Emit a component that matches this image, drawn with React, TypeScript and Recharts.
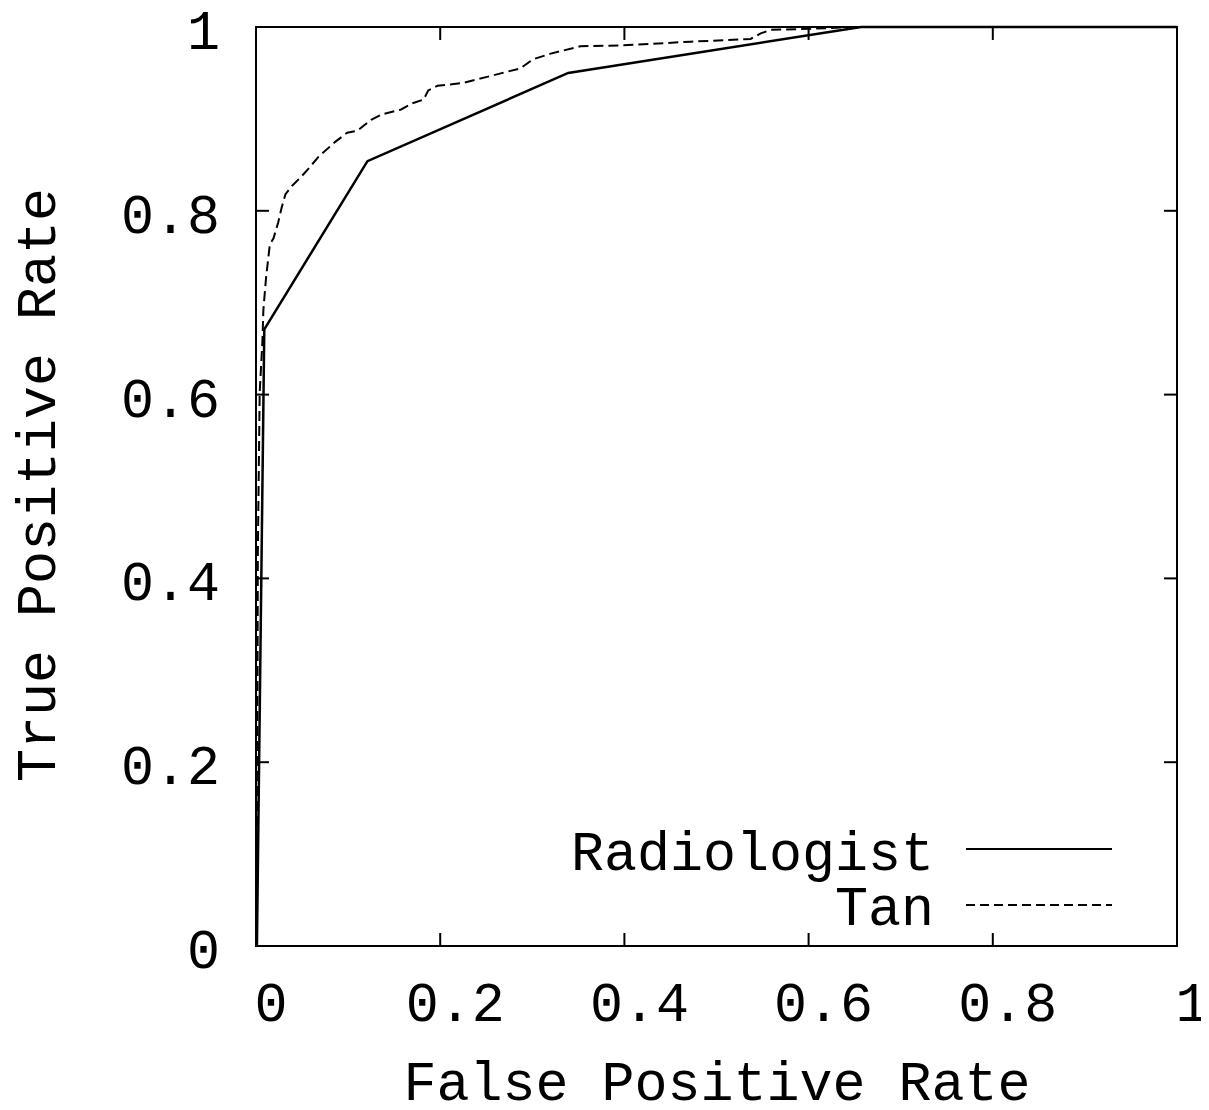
import { Legend, Line, LineChart, ReferenceArea, ReferenceLine, XAxis, YAxis } from "recharts";

const xTicks = [0, 0.2, 0.4, 0.6, 0.8, 1];
const yTicks = [0, 0.2, 0.4, 0.6, 0.8, 1];
const tickLabels = ["0", "0.2", "0.4", "0.6", "0.8", "1"];

const radiologistFpr = [0.001, 0.009, 0.121, 0.339, 0.657, 1];
const radiologistTpr = [0, 0.671, 0.854, 0.95, 1, 1];

const tanFpr = [
  0.001, 0.002, 0.004, 0.007, 0.008, 0.011, 0.015, 0.019, 0.024, 0.028, 0.032,
  0.039, 0.049, 0.058, 0.068, 0.086, 0.099, 0.11, 0.125, 0.137, 0.157, 0.17,
  0.182, 0.187, 0.197, 0.224, 0.252, 0.287, 0.301, 0.32, 0.352, 0.396, 0.472,
  0.537, 0.548, 0.559, 0.602, 0.651, 1,
];
const tanTpr = [
  0, 0.428, 0.602, 0.659, 0.692, 0.728, 0.763, 0.77, 0.787, 0.804, 0.818,
  0.827, 0.837, 0.847, 0.859, 0.875, 0.885, 0.887, 0.899, 0.905, 0.91, 0.917,
  0.921, 0.931, 0.936, 0.939, 0.946, 0.955, 0.965, 0.971, 0.979, 0.98, 0.984,
  0.987, 0.993, 0.997, 0.998, 1, 1,
];

const radiologist = radiologistFpr.map((x, i) => ({ x, y: radiologistTpr[i] }));
const tan = tanFpr.map((x, i) => ({ x, y: tanTpr[i] }));

const W = 1209;
const H = 1110;
const FONT = '"Liberation Mono", "DejaVu Sans Mono", monospace';
const FS = 55;
// inward tick length, in axis units (13px of ~920px)
const TICK = 0.0141;

const label = (v: number) => tickLabels[xTicks.indexOf(v)] ?? String(v);

const XTick = (props: any) => (
  <text x={props.x + 15} y={1021} textAnchor="middle" fontFamily={FONT} fontSize={FS} fill="#000">
    {label(props.payload.value)}
  </text>
);

const YTick = (props: any) => (
  <text x={220} y={props.y + 22} textAnchor="end" fontFamily={FONT} fontSize={FS} fill="#000">
    {label(props.payload.value)}
  </text>
);

const LegendBox = () => (
  <svg width={W} height={H} style={{ position: "absolute", left: 0, top: 0, pointerEvents: "none" }}>
    <text x={934} y={870} textAnchor="end" fontFamily={FONT} fontSize={FS} fill="#000">
      Radiologist
    </text>
    <line x1={966} x2={1112} y1={849} y2={849} stroke="#000" strokeWidth={2} />
    <text x={934} y={925} textAnchor="end" fontFamily={FONT} fontSize={FS} fill="#000">
      Tan
    </text>
    <line x1={966} x2={1112} y1={905} y2={905} stroke="#000" strokeWidth={2} strokeDasharray="9 5" />
  </svg>
);

const axisLine = { stroke: "#000", strokeWidth: 2 };
const tickLine = { stroke: "#000", strokeWidth: 2 };

export default function App() {
  // cancel the body margin so the chart covers the whole window
  return (
    <div style={{ margin: -8 }}>
      <LineChart width={W} height={H} margin={{ top: 27, right: 32, bottom: 0, left: 0 }}>
        <XAxis
          dataKey="x"
          type="number"
          domain={[0, 1]}
          ticks={xTicks}
          height={164}
          axisLine={axisLine}
          tickLine={tickLine}
          tickSize={-13}
          tick={XTick}
          label={() => (
            <text x={717} y={1100} textAnchor="middle" fontFamily={FONT} fontSize={FS} fill="#000">
              False Positive Rate
            </text>
          )}
        />
        <YAxis
          type="number"
          domain={[0, 1]}
          ticks={yTicks}
          width={256}
          axisLine={axisLine}
          tickLine={tickLine}
          tickSize={-13}
          tick={YTick}
          label={() => (
            <text
              x={55}
              y={485}
              transform="rotate(-90, 55, 485)"
              textAnchor="middle"
              fontFamily={FONT}
              fontSize={FS}
              fill="#000"
            >
              True Positive Rate
            </text>
          )}
        />
        <ReferenceArea x1={0} x2={1} y1={0} y2={1} fill="none" stroke="#000" strokeWidth={2} />
        {xTicks.slice(1, -1).map((t) => (
          <ReferenceLine
            key={"tx" + t}
            segment={[
              { x: t, y: 1 },
              { x: t, y: 1 - TICK },
            ]}
            stroke="#000"
            strokeWidth={2}
          />
        ))}
        {yTicks.slice(1, -1).map((t) => (
          <ReferenceLine
            key={"ty" + t}
            segment={[
              { x: 1, y: t },
              { x: 1 - TICK, y: t },
            ]}
            stroke="#000"
            strokeWidth={2}
          />
        ))}
        <Line
          data={radiologist}
          dataKey="y"
          type="linear"
          stroke="#000"
          strokeWidth={2.5}
          dot={false}
          isAnimationActive={false}
        />
        <Line
          data={tan}
          dataKey="y"
          type="linear"
          stroke="#000"
          strokeWidth={2}
          strokeDasharray="10 5"
          dot={false}
          isAnimationActive={false}
        />
        <Legend
          layout="vertical"
          align="center"
          verticalAlign="middle"
          wrapperStyle={{ left: 0, top: 0, width: W, height: H }}
          content={LegendBox}
        />
      </LineChart>
    </div>
  );
}
